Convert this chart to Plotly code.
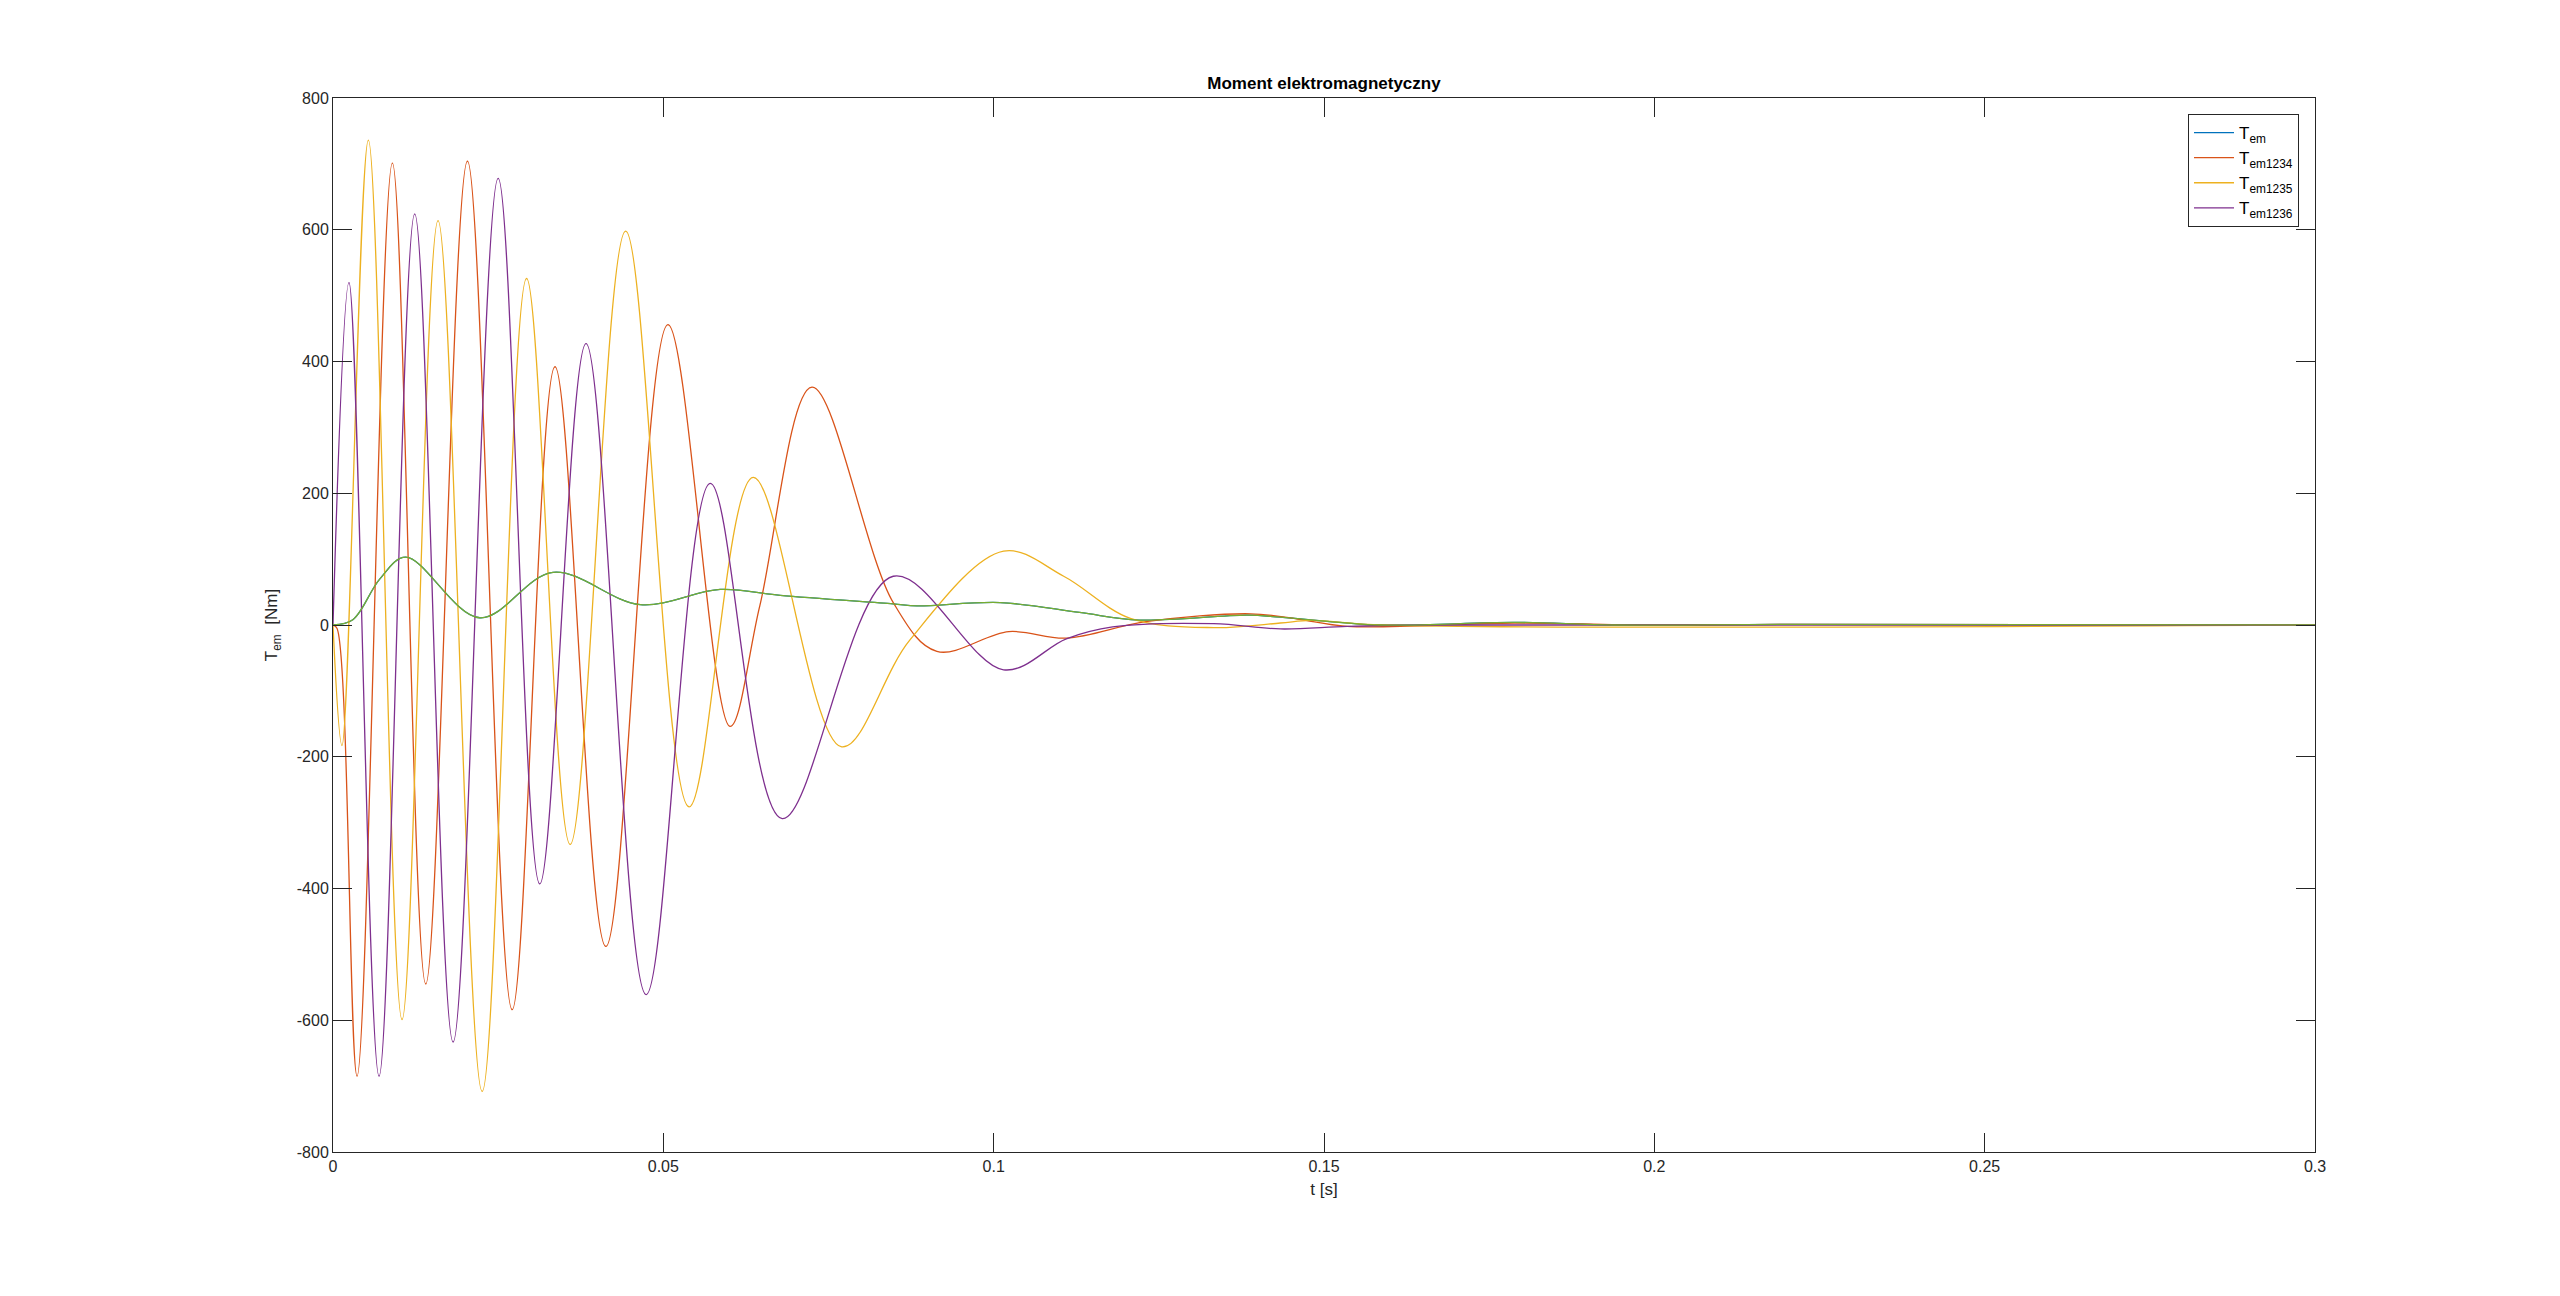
import plotly.graph_objects as go

# ---- data ----
t_tem = [0, 0.003, 0.0071, 0.011, 0.0222, 0.0333, 0.0465, 0.0586, 0.0677, 0.0848,
         0.0884, 0.101, 0.113, 0.122, 0.1384, 0.1434, 0.1586, 0.1788, 0.194, 0.22, 0.3]
tem = [0, 8, 70, 103, 11, 80, 31, 54, 45, 32,
       29, 34, 19, 7.5, 15, 12, 0, 4, 0, 1, 0]

t_1234 = [0, 0.0006, 0.00364, 0.00899, 0.01404, 0.02035, 0.02712, 0.0336, 0.0413,
          0.0507, 0.0601, 0.0646, 0.0725, 0.0848, 0.0914, 0.1023, 0.111, 0.123,
          0.1389, 0.146, 0.1535, 0.1788, 0.2, 0.22, 0.3]
tem1234 = [0, -5, -685, 701, -545, 704, -584, 392, -488,
           456, -154, 29, 361, 34, -40, -10, -20, 5,
           17, 9, -2, 3, 0, 1, 0]

t_1235 = [0, 0.00136, 0.00535, 0.01045, 0.0159, 0.02258, 0.0293, 0.0359, 0.0443,
          0.0539, 0.0636, 0.0770, 0.0873, 0.1015, 0.1106, 0.1207, 0.1333, 0.1434,
          0.148, 0.159, 0.3]
tem1235 = [0, -183, 736, -599, 614, -708, 526, -333, 598,
           -276, 224, -185, -23, 112, 74, 10, -4, 3,
           7, 0, 0]

t_1236 = [0, 0.00242, 0.00697, 0.01237, 0.01818, 0.025, 0.0313, 0.0383, 0.0474,
          0.0571, 0.0680, 0.0848, 0.1015, 0.111, 0.118, 0.1333, 0.1434, 0.1535,
          0.165, 0.3]
tem1236 = [0, 520, -685, 624, -633, 678, -393, 427, -561,
           215, -294, 74, -68, -21, -3, 2, -6, -2,
           0, 0]

x_ticks = [0, 0.05, 0.1, 0.15, 0.2, 0.25, 0.3]
x_tick_labels = ["0", "0.05", "0.1", "0.15", "0.2", "0.25", "0.3"]
y_ticks = [-800, -600, -400, -200, 0, 200, 400, 600, 800]
y_tick_labels = ["-800", "-600", "-400", "-200", "0", "200", "400", "600", "800"]

FONT = "Liberation Sans, Arial, sans-serif"
AX = "#262626"

# page body has an 8px margin -> figure drawn 8px right/down
W, H = 2552, 1288
PL, PR, PT, PB = 325, 2307, 90, 1144  # plot area in figure coords

fig = go.Figure()

def add(t, v, name, color, show=True):
    fig.add_trace(go.Scatter(
        x=t, y=v, mode="lines", name=name, showlegend=show,
        line=dict(color=color, width=1.3, shape="spline", smoothing=1.0),
    ))

add(t_tem, tem, "T<sub>em</sub>", "#0072BD")
add(t_1234, tem1234, "T<sub>em1234</sub>", "#D95319")
add(t_1235, tem1235, "T<sub>em1235</sub>", "#EDB120")
add(t_1236, tem1236, "T<sub>em1236</sub>", "#7E2F8E")
add(t_tem, tem, "T<sub>em</sub> ", "#77AC30", show=False)

axis_common = dict(
    showline=True, linecolor=AX, linewidth=1, mirror="ticks",
    ticks="inside", ticklen=19, tickwidth=1, tickcolor=AX,
    showgrid=False, zeroline=False,
    tickfont=dict(family=FONT, size=16, color=AX),
)

fig.update_layout(
    width=W, height=H,
    paper_bgcolor="white", plot_bgcolor="white",
    margin=dict(l=PL, r=W - PR, t=PT, b=H - PB, pad=0),
    font=dict(family=FONT, color=AX, size=16),
    title=dict(text="<b>Moment elektromagnetyczny</b>", x=(PL + PR) / 2 / W,
               xanchor="center", y=1 - 75 / H, yanchor="middle",
               font=dict(family=FONT, size=17, color="black")),
    xaxis=dict(range=[0, 0.3], tickvals=x_ticks, ticktext=x_tick_labels,
               title=dict(text="t [s]", font=dict(family=FONT, size=17, color=AX),
                          standoff=8),
               **axis_common),
    yaxis=dict(range=[-800, 800], tickvals=y_ticks, ticktext=y_tick_labels,
               title=dict(text="T<sub>em</sub>  [Nm]", font=dict(family=FONT, size=17, color=AX),
                          standoff=14),
               **axis_common),
    legend=dict(x=(2299 - 333) / 1982, y=(1152 - 114) / 1054, xanchor="right", yanchor="top",
                bgcolor="white", bordercolor=AX, borderwidth=1,
                font=dict(family=FONT, size=17, color="black"),
                tracegroupgap=0, itemwidth=40),
    showlegend=True,
)

fig.write_html("out.html")
